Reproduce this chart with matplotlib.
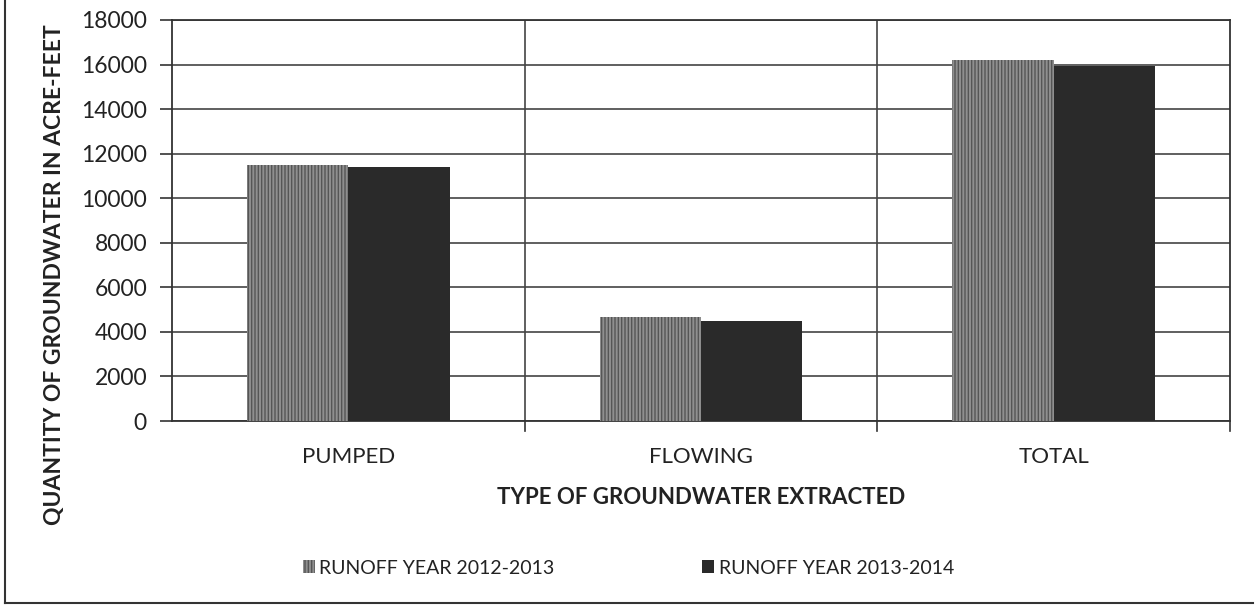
import matplotlib
matplotlib.use("Agg")
import matplotlib.pyplot as plt
from matplotlib.lines import Line2D
from matplotlib.patches import Patch
import numpy as np

categories = ["PUMPED", "FLOWING", "TOTAL"]
series_names = ["RUNOFF YEAR 2012-2013", "RUNOFF YEAR 2013-2014"]
values_2012_2013 = [11500, 4680, 16200]
values_2013_2014 = [11420, 4480, 15950]
yticks = [0, 2000, 4000, 6000, 8000, 10000, 12000, 14000, 16000, 18000]

plt.rcParams['font.family'] = ['Lato', 'DejaVu Sans']
plt.rcParams['hatch.linewidth'] = 1.0
plt.rcParams['hatch.color'] = '#555555'

fig = plt.figure(figsize=(12.57, 6.07), dpi=100)
ax = fig.add_axes([172/1257, 1-421/607, (1230-172)/1257, (421-20)/607])

x = np.arange(len(categories))
w = 0.287
ax.bar(x - w/2, values_2012_2013, w, facecolor='#8f8f8f', edgecolor='#555555',
       hatch='|||||', linewidth=0, zorder=3)
ax.bar(x + w/2, values_2013_2014, w, facecolor='#2a2a2a', linewidth=0, zorder=3)

ax.set_xlim(-0.5, 2.5)
ax.set_ylim(0, 18000)
ax.set_yticks(yticks)
ax.set_yticklabels([str(v) for v in yticks], fontsize=16.5, color='#222222')
ax.set_xticks(x)
ax.set_xticklabels(categories, fontsize=16, color='#222222')
ax.tick_params(axis='x', length=0, pad=19)
ax.tick_params(axis='y', length=9, width=1.2, color='#333333', pad=9)
ax.yaxis.grid(True, color='#444444', linewidth=1.2, zorder=0)
for b in [0.5, 1.5]:
    ax.axvline(b, color='#444444', linewidth=1.2, zorder=1)
for b in [0.5, 1.5, 2.5]:
    ax.plot([b, b], [0, -0.025], transform=ax.get_xaxis_transform(), clip_on=False,
            color='#333333', linewidth=1.2)
for s in ax.spines.values():
    s.set_color('#333333')
    s.set_linewidth(1.3)

ax.set_xlabel("TYPE OF GROUNDWATER EXTRACTED", fontsize=16, fontweight='bold', color='#222222')
ax.xaxis.set_label_coords(0.5, -(497-421)/401, transform=ax.transAxes)
ax.xaxis.label.set_va('center')
ax.set_ylabel("QUANTITY OF GROUNDWATER IN ACRE-FEET", fontsize=16.5, fontweight='bold', color='#222222')
ax.yaxis.set_label_coords(-(172-55)/1058, (421-275)/401)
ax.yaxis.label.set_va('center')

handles = [Patch(facecolor='#8f8f8f', edgecolor='#555555', hatch='|||||', linewidth=0),
           Patch(facecolor='#2a2a2a', linewidth=0)]
leg = fig.legend(handles, series_names, loc='center', bbox_to_anchor=(0.5, 1-568/607), ncol=2,
                 frameon=False, fontsize=14, handlelength=0.6, handleheight=0.6,
                 handletextpad=0.25, columnspacing=7.6)
for t in leg.get_texts():
    t.set_color('#222222')

fig.add_artist(Line2D([5/1257, 5/1257], [1-603/607, 1], color='#333333', linewidth=1.5))
fig.add_artist(Line2D([5/1257, 1253/1257], [1-603/607, 1-603/607], color='#333333', linewidth=1.5))

fig.savefig("out.png", dpi=100)
